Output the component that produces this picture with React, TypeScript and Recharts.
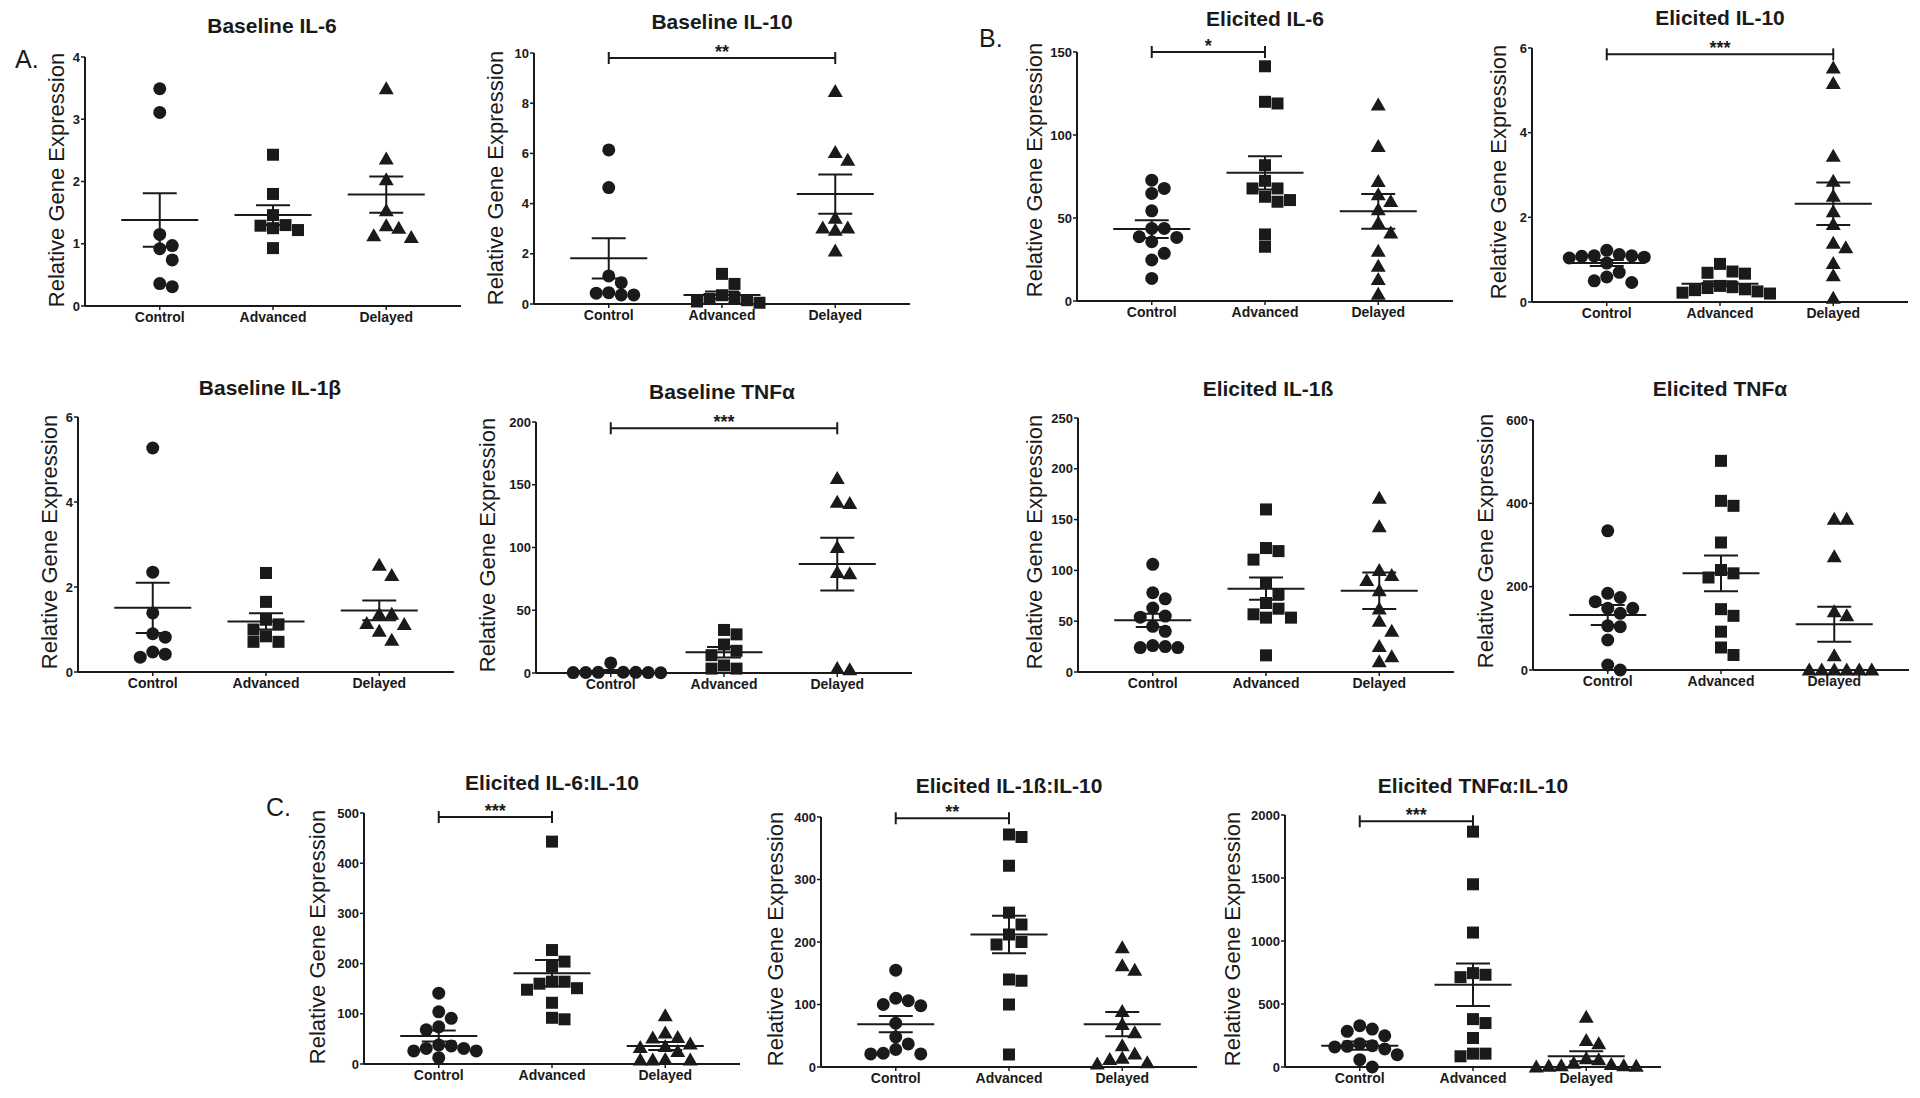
import React from "react";
import { ScatterChart, Scatter, XAxis, YAxis, ReferenceLine } from "recharts";

const GROUPS = ["Control", "Advanced", "Delayed"];

// A. Baseline IL-6
const baseIl6Control = [3.49, 3.11, 1.15, 0.97, 0.92, 0.74, 0.36, 0.31];
const baseIl6Advanced = [2.43, 1.8, 1.46, 1.3, 1.25, 1.22, 1.29, 0.93];
const baseIl6Delayed = [3.49, 2.36, 2.03, 1.53, 1.25, 1.29, 1.1, 1.13];
const baseIl6Mean = [1.38, 1.46, 1.79];
const baseIl6Sem = [0.43, 0.16, 0.29];
const baseIl6Ticks = [0, 1, 2, 3, 4];

// A. Baseline IL-10
const baseIl10Control = [6.14, 4.64, 1.12, 0.85, 0.43, 0.36, 0.36, 0.45];
const baseIl10Advanced = [1.2, 0.8, 0.35, 0.25, 0.2, 0.15, 0.1, 0.05];
const baseIl10Delayed = [8.47, 6.04, 5.73, 3.42, 3.03, 2.94, 3.03, 2.11];
const baseIl10Mean = [1.82, 0.36, 4.38];
const baseIl10Sem = [0.8, 0.14, 0.78];
const baseIl10Ticks = [0, 2, 4, 6, 8, 10];

// A. Baseline IL-1β
const baseIl1bControl = [5.27, 2.35, 1.39, 0.9, 0.82, 0.47, 0.35, 0.42];
const baseIl1bAdvanced = [2.33, 1.65, 1.23, 1.12, 1.0, 0.84, 0.71, 0.71];
const baseIl1bDelayed = [2.51, 2.27, 1.36, 1.36, 1.14, 1.12, 0.96, 0.75];
const baseIl1bMean = [1.51, 1.19, 1.45];
const baseIl1bSem = [0.59, 0.19, 0.23];
const baseIl1bTicks = [0, 2, 4, 6];

// A. Baseline TNFα
const baseTnfControl = [0.5, 0.3, 0.2, 0.4, 0.6, 0.3, 0.5, 8];
const baseTnfAdvanced = [30.8, 34.3, 22.7, 17.7, 14.2, 6, 3.5, 3.5];
const baseTnfDelayed = [155, 136, 135, 100, 80, 79, 2.5, 3.5];
const baseTnfMean = [1.4, 16.6, 86.8];
const baseTnfSem = [1, 4.2, 21];
const baseTnfTicks = [0, 50, 100, 150, 200];

// B. Elicited IL-6
const elicIl6Control = [72.8, 67.8, 64.8, 54.3, 43.7, 43.7, 38.7, 38.3, 35.7, 28.7, 24.7, 13.6];
const elicIl6Advanced = [141.4, 119, 120, 81.8, 72.4, 67.8, 67.8, 60.8, 59.8, 62.8, 40.1, 32.7];
const elicIl6Delayed = [118, 93, 72, 64, 60, 55, 47, 41, 30, 21, 13, 4];
const elicIl6Mean = [43.3, 77.2, 54];
const elicIl6Sem = [5.3, 10, 10.5];
const elicIl6Ticks = [0, 50, 100, 150];

// B. Elicited IL-10
const elicIl10Control = [1.22, 1.09, 1.09, 1.04, 0.92, 1.06, 1.08, 1.12, 0.59, 0.46, 0.5, 0.7];
const elicIl10Advanced = [0.9, 0.69, 0.67, 0.72, 0.38, 0.35, 0.33, 0.3, 0.28, 0.25, 0.22, 0.2];
const elicIl10Delayed = [5.53, 5.16, 3.44, 2.85, 2.5, 2.13, 1.83, 1.39, 1.28, 0.91, 0.62, 0.09];
const elicIl10Mean = [0.92, 0.43, 2.32];
const elicIl10Sem = [0.07, 0.06, 0.5];
const elicIl10Ticks = [0, 2, 4, 6];

// B. Elicited IL-1ß
const elicIl1bControl = [106, 78, 72, 63, 55, 54, 45, 40, 25, 24, 24, 26];
const elicIl1bAdvanced = [160, 122, 119, 110.6, 87.6, 76.4, 67.9, 62.3, 53.5, 53.5, 56.8, 16.4];
const elicIl1bDelayed = [171, 143, 100, 95, 90, 80, 62, 50, 40, 25, 15, 10];
const elicIl1bMean = [50.9, 82, 80];
const elicIl1bSem = [6.5, 11, 18];
const elicIl1bTicks = [0, 50, 100, 150, 200, 250];

// B. Elicited TNFα
const elicTnfControl = [334, 164, 174, 184, 148, 136, 148, 104, 106, 72, 0, 12];
const elicTnfAdvanced = [502, 406, 394, 306, 232, 222, 240, 146, 130, 92, 54, 36];
const elicTnfDelayed = [362, 362, 272, 140, 130, 34, 0, 0, 0, 0, 0, 0];
const elicTnfMean = [132, 232, 110];
const elicTnfSem = [24, 43, 42];
const elicTnfTicks = [0, 200, 400, 600];

// C. Elicited IL-6:IL-10
const ratioIl6Control = [141, 104, 91, 74, 68, 38, 31, 26, 26, 31, 36, 12.6];
const ratioIl6Advanced = [443, 227, 204, 194, 164, 160, 148, 151, 164, 122, 89, 92];
const ratioIl6Delayed = [96, 62, 53, 52, 40, 35, 33, 25, 9, 8, 8, 8];
const ratioIl6Mean = [55.9, 181, 36];
const ratioIl6Sem = [11, 26, 8];
const ratioIl6Ticks = [0, 100, 200, 300, 400, 500];

// C. Elicited IL-1ß:IL-10
const ratioIl1bControl = [155, 110, 100, 98, 106, 70, 48, 37, 22, 21, 21, 28];
const ratioIl1bAdvanced = [368, 372, 322, 247, 228, 212, 200, 196, 138, 140, 100, 20];
const ratioIl1bDelayed = [191, 155, 162, 89, 68, 55, 34, 21, 12, 5, 7, 14];
const ratioIl1bMean = [68.6, 212, 68.6];
const ratioIl1bSem = [13, 30, 19.5];
const ratioIl1bTicks = [0, 100, 200, 300, 400];

// C. Elicited TNFα:IL-10
const ratioTnfControl = [301, 248, 283, 328, 159, 143, 169, 164, 185, 58, 98, 0];
const ratioTnfAdvanced = [1868, 1450, 1067, 732, 745, 713, 349, 380, 230, 106, 85, 106];
const ratioTnfDelayed = [394, 211, 185, 66, 58, 30, 20, 10, 10, 5, 5, 0];
const ratioTnfMean = [169, 653, 85];
const ratioTnfSem = [33, 168, 40];
const ratioTnfTicks = [0, 500, 1000, 1500, 2000];

const FONT = "'Liberation Sans', Arial, Helvetica, sans-serif";
const INK = "#1a1a1a";
const PLOT_W = 376;
const X_DOMAIN: [number, number] = [0.34, 3.66];
const Y_AXIS_W = 44;
const M_TOP = 24;
const M_RIGHT = 10;
const X_AXIS_H = 32;
const GAP = 12.5;

type Sig = { from: number; to: number; y: number; label: string };
type PanelDef = {
  title: string;
  groups: number[][];
  mean: number[];
  sem: number[];
  ticks: number[];
  sig?: Sig;
  left: number;
  top: number;
  bottom: number;
  titleX: number;
  titleY: number;
  labelX: number;
  labelY: number;
};

const PANELS: PanelDef[] = [
  { title: "Baseline IL-6", groups: [baseIl6Control, baseIl6Advanced, baseIl6Delayed], mean: baseIl6Mean, sem: baseIl6Sem, ticks: baseIl6Ticks,
    left: 85, top: 57, bottom: 306, titleX: 272, titleY: 25, labelX: 57, labelY: 180 },
  { title: "Baseline IL-10", groups: [baseIl10Control, baseIl10Advanced, baseIl10Delayed], mean: baseIl10Mean, sem: baseIl10Sem, ticks: baseIl10Ticks,
    sig: { from: 1, to: 3, y: 9.8, label: "**" },
    left: 534, top: 53, bottom: 304, titleX: 722, titleY: 21, labelX: 496, labelY: 178 },
  { title: "Elicited IL-6", groups: [elicIl6Control, elicIl6Advanced, elicIl6Delayed], mean: elicIl6Mean, sem: elicIl6Sem, ticks: elicIl6Ticks,
    sig: { from: 1, to: 2, y: 150, label: "*" },
    left: 1077, top: 52, bottom: 301, titleX: 1265, titleY: 18, labelX: 1035, labelY: 170 },
  { title: "Elicited IL-10", groups: [elicIl10Control, elicIl10Advanced, elicIl10Delayed], mean: elicIl10Mean, sem: elicIl10Sem, ticks: elicIl10Ticks,
    sig: { from: 1, to: 3, y: 5.85, label: "***" },
    left: 1532, top: 48, bottom: 302, titleX: 1720, titleY: 17, labelX: 1499, labelY: 172 },
  { title: "Baseline IL-1β", groups: [baseIl1bControl, baseIl1bAdvanced, baseIl1bDelayed], mean: baseIl1bMean, sem: baseIl1bSem, ticks: baseIl1bTicks,
    left: 78, top: 417, bottom: 672, titleX: 270, titleY: 387, labelX: 50, labelY: 542 },
  { title: "Baseline TNFα", groups: [baseTnfControl, baseTnfAdvanced, baseTnfDelayed], mean: baseTnfMean, sem: baseTnfSem, ticks: baseTnfTicks,
    sig: { from: 1, to: 3, y: 195, label: "***" },
    left: 536, top: 422, bottom: 673, titleX: 722, titleY: 391, labelX: 488, labelY: 545 },
  { title: "Elicited IL-1ß", groups: [elicIl1bControl, elicIl1bAdvanced, elicIl1bDelayed], mean: elicIl1bMean, sem: elicIl1bSem, ticks: elicIl1bTicks,
    left: 1078, top: 418, bottom: 672, titleX: 1268, titleY: 388, labelX: 1035, labelY: 542 },
  { title: "Elicited TNFα", groups: [elicTnfControl, elicTnfAdvanced, elicTnfDelayed], mean: elicTnfMean, sem: elicTnfSem, ticks: elicTnfTicks,
    left: 1533, top: 420, bottom: 670, titleX: 1720, titleY: 388, labelX: 1486, labelY: 541 },
  { title: "Elicited IL-6:IL-10", groups: [ratioIl6Control, ratioIl6Advanced, ratioIl6Delayed], mean: ratioIl6Mean, sem: ratioIl6Sem, ticks: ratioIl6Ticks,
    sig: { from: 1, to: 2, y: 492, label: "***" },
    left: 364, top: 813, bottom: 1064, titleX: 552, titleY: 782, labelX: 318, labelY: 937 },
  { title: "Elicited IL-1ß:IL-10", groups: [ratioIl1bControl, ratioIl1bAdvanced, ratioIl1bDelayed], mean: ratioIl1bMean, sem: ratioIl1bSem, ticks: ratioIl1bTicks,
    sig: { from: 1, to: 2, y: 398, label: "**" },
    left: 821, top: 817, bottom: 1067, titleX: 1009, titleY: 785, labelX: 776, labelY: 939 },
  { title: "Elicited TNFα:IL-10", groups: [ratioTnfControl, ratioTnfAdvanced, ratioTnfDelayed], mean: ratioTnfMean, sem: ratioTnfSem, ticks: ratioTnfTicks,
    sig: { from: 1, to: 2, y: 1950, label: "***" },
    left: 1285, top: 815, bottom: 1067, titleX: 1473, titleY: 785, labelX: 1233, labelY: 939 },
];

// spread points sideways so markers do not overlap (column scatter look)
function swarm(values: number[], pxY: number, pxX: number) {
  const order = values.map((_, i) => i).sort((a, b) => values[b] - values[a]);
  const placed: { x: number; y: number }[] = [];
  const offsets = new Array(values.length).fill(0);
  for (const i of order) {
    const y = values[i] * pxY;
    for (let k = 0; k < 40; k++) {
      const cand = k === 0 ? 0 : (k % 2 ? 1 : -1) * Math.ceil(k / 2) * GAP;
      const hit = placed.some((p) => Math.hypot(p.x - cand, p.y - y) < GAP * 0.96);
      if (!hit) {
        placed.push({ x: cand, y });
        offsets[i] = cand / pxX;
        break;
      }
    }
  }
  return offsets;
}

const Circle = (p: any) => <circle cx={p.cx} cy={p.cy} r={6.5} fill={INK} />;
const Square = (p: any) => <rect x={p.cx - 6} y={p.cy - 6} width={12} height={12} fill={INK} />;
const Triangle = (p: any) => (
  <polygon points={`${p.cx},${p.cy - 7.5} ${p.cx - 7.5},${p.cy + 5.5} ${p.cx + 7.5},${p.cy + 5.5}`} fill={INK} />
);
const SHAPES = [Circle, Square, Triangle];

function Panel({ p }: { p: PanelDef }) {
  const plotH = p.bottom - p.top;
  const yMax = p.ticks[p.ticks.length - 1];
  const pxY = plotH / yMax;
  const pxX = PLOT_W / (X_DOMAIN[1] - X_DOMAIN[0]);
  const width = Y_AXIS_W + PLOT_W + M_RIGHT;
  const height = M_TOP + plotH + X_AXIS_H;
  const line = { stroke: INK, strokeWidth: 2, ifOverflow: "visible" as const };
  const tip = 6 / pxY;

  return (
    <div style={{ position: "absolute", left: p.left - Y_AXIS_W, top: p.top - M_TOP }}>
      <ScatterChart width={width} height={height} margin={{ top: M_TOP, right: M_RIGHT, bottom: 0, left: 0 }}>
        <XAxis
          type="number"
          dataKey="x"
          domain={X_DOMAIN}
          ticks={[1, 2, 3]}
          interval={0}
          allowDataOverflow
          tickFormatter={(v: number) => GROUPS[v - 1]}
          height={X_AXIS_H}
          tickSize={4}
          tickMargin={2}
          axisLine={{ stroke: INK, strokeWidth: 2 }}
          tickLine={{ stroke: INK, strokeWidth: 1.5 }}
          tick={{ fill: INK, fontSize: 14, fontWeight: 700, fontFamily: FONT }}
        />
        <YAxis
          type="number"
          dataKey="y"
          domain={[0, yMax]}
          ticks={p.ticks}
          interval={0}
          width={Y_AXIS_W}
          tickSize={4}
          tickMargin={1}
          axisLine={{ stroke: INK, strokeWidth: 2 }}
          tickLine={{ stroke: INK, strokeWidth: 1.5 }}
          tick={{ fill: INK, fontSize: 13, fontWeight: 700, fontFamily: FONT }}
        />
        {p.groups.map((vals, g) => {
          const offs = swarm(vals, pxY, pxX);
          const data = vals.map((v, i) => ({ x: g + 1 + offs[i], y: v }));
          return (
            <Scatter key={GROUPS[g]} name={GROUPS[g]} data={data} shape={SHAPES[g]} isAnimationActive={false} />
          );
        })}
        {p.mean.map((m, g) => {
          const c = g + 1;
          const s = p.sem[g];
          return (
            <React.Fragment key={"ms" + g}>
              <ReferenceLine {...line} segment={[{ x: c - 0.34, y: m }, { x: c + 0.34, y: m }]} />
              <ReferenceLine {...line} segment={[{ x: c - 0.15, y: m + s }, { x: c + 0.15, y: m + s }]} />
              <ReferenceLine {...line} segment={[{ x: c - 0.15, y: m - s }, { x: c + 0.15, y: m - s }]} />
              <ReferenceLine {...line} segment={[{ x: c, y: m - s }, { x: c, y: m + s }]} />
            </React.Fragment>
          );
        })}
        {p.sig && (
          <ReferenceLine
            {...line}
            segment={[{ x: p.sig.from, y: p.sig.y }, { x: p.sig.to, y: p.sig.y }]}
            label={{ value: p.sig.label, position: "top", offset: 0, fill: INK, fontSize: 18, fontWeight: 700, fontFamily: FONT }}
          />
        )}
        {p.sig && (
          <ReferenceLine {...line} segment={[{ x: p.sig.from, y: p.sig.y - tip }, { x: p.sig.from, y: p.sig.y + tip }]} />
        )}
        {p.sig && (
          <ReferenceLine {...line} segment={[{ x: p.sig.to, y: p.sig.y - tip }, { x: p.sig.to, y: p.sig.y + tip }]} />
        )}
      </ScatterChart>
    </div>
  );
}

const textBase: React.CSSProperties = {
  position: "absolute",
  whiteSpace: "nowrap",
  fontFamily: FONT,
  color: INK,
  lineHeight: 1,
};

export default function App() {
  return (
    <div style={{ position: "absolute", left: 0, top: 0, width: 1920, height: 1098, background: "#fff", overflow: "hidden" }}>
      {PANELS.map((p) => (
        <React.Fragment key={p.title}>
          <Panel p={p} />
          <div style={{ ...textBase, left: p.titleX, top: p.titleY, transform: "translate(-50%, -50%)", fontSize: 21, fontWeight: 700 }}>
            {p.title}
          </div>
          <div style={{ ...textBase, left: p.labelX, top: p.labelY, transform: "translate(-50%, -50%) rotate(-90deg)", fontSize: 22 }}>
            Relative Gene Expression
          </div>
        </React.Fragment>
      ))}
      <div style={{ ...textBase, left: 15, top: 47, fontSize: 25 }}>A.</div>
      <div style={{ ...textBase, left: 979, top: 26, fontSize: 25 }}>B.</div>
      <div style={{ ...textBase, left: 266, top: 795, fontSize: 25 }}>C.</div>
    </div>
  );
}
